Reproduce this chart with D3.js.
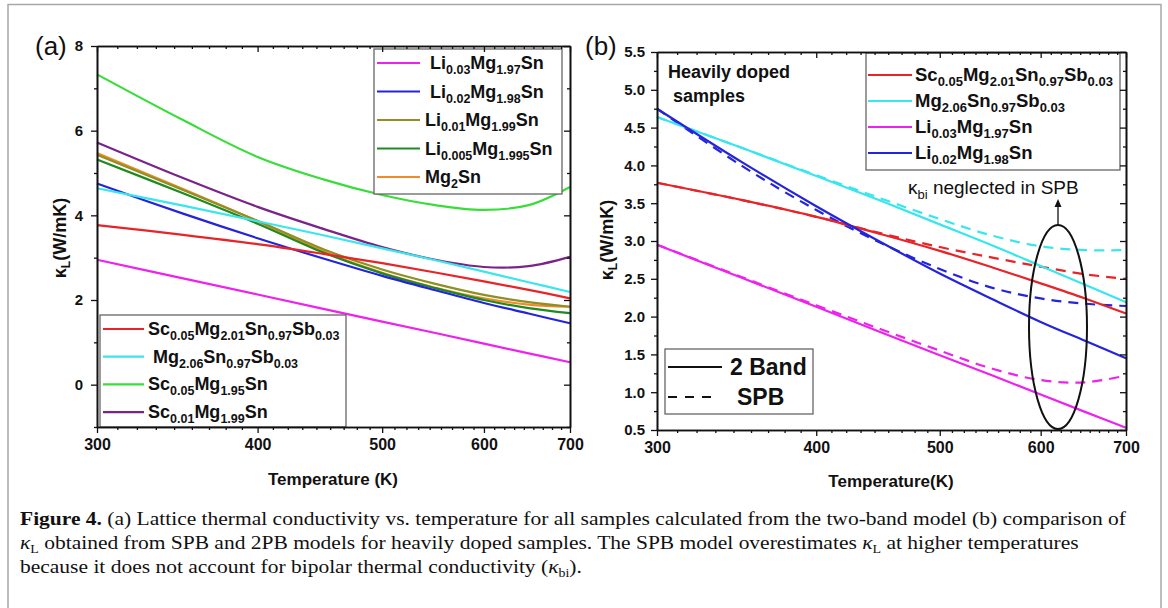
<!DOCTYPE html>
<html>
<head>
<meta charset="utf-8">
<script src="https://cdn.jsdelivr.net/npm/d3@7"></script>
<style>
  body { margin: 0; background: #fff; }
  svg text { font-family: "Liberation Sans", Arial, sans-serif; }
</style>
</head>
<body>
<div id="chart"></div>
<script>
// temperatures (K) where the curves were read
var temps = [300, 350, 400, 450, 500, 550, 600, 650, 700];

// two-band model, lattice thermal conductivity (W/mK)
var li003   = [2.95, 2.51, 2.13, 1.79, 1.49, 1.22, 0.97, 0.74, 0.53];
var li002   = [4.75, 4.04, 3.46, 2.98, 2.57, 2.23, 1.93, 1.68, 1.45];
var li001   = [5.43, 4.60, 3.87, 3.20, 2.72, 2.38, 2.12, 1.95, 1.84];
var li0005  = [5.32, 4.52, 3.80, 3.12, 2.63, 2.28, 2.00, 1.81, 1.69];
var mg2sn   = [5.47, 4.62, 3.86, 3.15, 2.64, 2.29, 2.04, 1.89, 1.84];
var scSb    = [3.77, 3.54, 3.32, 3.09, 2.87, 2.65, 2.44, 2.24, 2.04];
var mgSb    = [4.64, 4.23, 3.86, 3.53, 3.22, 2.94, 2.67, 2.42, 2.19];
var sc005   = [7.33, 6.25, 5.38, 4.85, 4.48, 4.24, 4.13, 4.24, 4.67];
var sc001   = [5.72, 4.88, 4.20, 3.68, 3.25, 2.95, 2.78, 2.80, 3.02];

// single parabolic band model (panel b, dashed)
var scSbSpb  = [3.77, 3.54, 3.32, 3.10, 2.92, 2.78, 2.66, 2.56, 2.50];
var mgSbSpb  = [4.64, 4.23, 3.87, 3.56, 3.29, 3.07, 2.93, 2.88, 2.88];
var li003Spb = [2.95, 2.52, 2.15, 1.83, 1.55, 1.31, 1.16, 1.13, 1.22];
var li002Spb = [4.75, 3.99, 3.41, 2.97, 2.63, 2.38, 2.24, 2.17, 2.14];

var namesA1 = [" Li_{0.03}Mg_{1.97}Sn", " Li_{0.02}Mg_{1.98}Sn", "Li_{0.01}Mg_{1.99}Sn", "Li_{0.005}Mg_{1.995}Sn", "Mg_{2}Sn"];
var namesA2 = ["Sc_{0.05}Mg_{2.01}Sn_{0.97}Sb_{0.03}", " Mg_{2.06}Sn_{0.97}Sb_{0.03}", "Sc_{0.05}Mg_{1.95}Sn", "Sc_{0.01}Mg_{1.99}Sn"];
var namesB  = ["Sc_{0.05}Mg_{2.01}Sn_{0.97}Sb_{0.03}", "Mg_{2.06}Sn_{0.97}Sb_{0.03}", "Li_{0.03}Mg_{1.97}Sn", "Li_{0.02}Mg_{1.98}Sn"];

var xTicks = [300, 400, 500, 600, 700];
var yTicksA = [0, 2, 4, 6, 8];
var yTicksB = [0.5, 1.0, 1.5, 2.0, 2.5, 3.0, 3.5, 4.0, 4.5, 5.0, 5.5];

var col = {
  magenta: "#ee22ee", blue: "#2424dc", olive: "#8f8f24", dkgreen: "#1f8a1f",
  orange: "#f28a2c", red: "#e82428", cyan: "#3ae6ee", green: "#38dd38", purple: "#7a2489"
};

var seriesA1 = [
  {vals: li003, c: col.magenta}, {vals: li002, c: col.blue}, {vals: li001, c: col.olive},
  {vals: li0005, c: col.dkgreen}, {vals: mg2sn, c: col.orange}
];
var seriesA2 = [
  {vals: scSb, c: col.red}, {vals: mgSb, c: col.cyan}, {vals: sc005, c: col.green}, {vals: sc001, c: col.purple}
];
var seriesB = [
  {vals: scSb, spb: scSbSpb, c: col.red}, {vals: mgSb, spb: mgSbSpb, c: col.cyan},
  {vals: li003, spb: li003Spb, c: col.magenta}, {vals: li002, spb: li002Spb, c: col.blue}
];

var svg = d3.select("#chart").append("svg")
  .attr("width", 1168).attr("height", 608);
svg.append("rect").attr("width", 1168).attr("height", 608).attr("fill", "#fff");
// outer figure frame
svg.append("rect").attr("x", 8).attr("y", 4.5).attr("width", 1153).attr("height", 620)
  .attr("fill", "none").attr("stroke", "#a8a8a8").attr("stroke-width", 1.5);

// writes "A_{b}C" style labels with subscripts
function rich(t, str, size, subSize, shift) {
  var parts = str.split(/(_\{[^}]*\})/).filter(function(s) { return s.length; });
  var low = false;
  parts.forEach(function(p) {
    if (p.indexOf("_{") === 0) {
      t.append("tspan").attr("font-size", subSize).attr("dy", low ? 0 : shift).text(p.slice(2, -1));
      low = true;
    } else {
      t.append("tspan").attr("font-size", size).attr("dy", low ? -shift : 0).text(p);
      low = false;
    }
  });
}

function minorOf(majors, n) {
  var out = [];
  for (var i = 0; i < majors.length - 1; i++) {
    var a = majors[i], b = majors[i + 1];
    for (var k = 1; k <= n; k++) out.push(a + (b - a) * k / (n + 1));
  }
  return out;
}

function drawFrame(g, x, y, yMaj, yMin, yFmt, xPad) {
  var x0 = x.range()[0], x1 = x.range()[1], y0 = y.range()[0], y1 = y.range()[1];
  var xMin = minorOf(xTicks, 8);

  // bottom
  g.append("g").attr("transform", "translate(0," + y0 + ")")
    .call(d3.axisBottom(x).tickValues(xMin).tickSize(3).tickFormat("").tickSizeOuter(0));
  g.append("g").attr("class", "xax").attr("transform", "translate(0," + y0 + ")")
    .call(d3.axisBottom(x).tickValues(xTicks).tickSize(6).tickPadding(6)
      .tickFormat(d3.format("d")).tickSizeOuter(0));
  // top (inward)
  g.append("g").attr("transform", "translate(0," + y1 + ")")
    .call(d3.axisBottom(x).tickValues(xMin).tickSize(3).tickFormat("").tickSizeOuter(0));
  g.append("g").attr("transform", "translate(0," + y1 + ")")
    .call(d3.axisBottom(x).tickValues(xTicks).tickSize(6).tickFormat("").tickSizeOuter(0));
  // left
  g.append("g").attr("transform", "translate(" + x0 + ",0)")
    .call(d3.axisLeft(y).tickValues(yMin).tickSize(3).tickFormat("").tickSizeOuter(0));
  g.append("g").attr("class", "yax").attr("transform", "translate(" + x0 + ",0)")
    .call(d3.axisLeft(y).tickValues(yMaj).tickSize(6).tickPadding(xPad)
      .tickFormat(yFmt).tickSizeOuter(0));
  // right (inward)
  g.append("g").attr("transform", "translate(" + x1 + ",0)")
    .call(d3.axisLeft(y).tickValues(yMin).tickSize(3).tickFormat("").tickSizeOuter(0));
  g.append("g").attr("transform", "translate(" + x1 + ",0)")
    .call(d3.axisLeft(y).tickValues(yMaj).tickSize(6).tickFormat("").tickSizeOuter(0));

  g.selectAll(".domain").attr("stroke", "#111").attr("stroke-width", 1.6);
  g.selectAll(".tick line").attr("stroke", "#111").attr("stroke-width", 1.3);
  g.selectAll(".xax text").attr("font-size", 16).attr("font-weight", "bold")
    .attr("font-family", "Liberation Sans, Arial, sans-serif").attr("fill", "#111");
  g.selectAll(".yax text").attr("font-size", 15).attr("font-weight", "bold")
    .attr("font-family", "Liberation Sans, Arial, sans-serif").attr("fill", "#111");
}

function legendBox(g, names, colors, bx, by, bw, bh, lx0, lx1, tx, ty0, dy, fs, sfs) {
  g.append("rect").attr("x", bx).attr("y", by).attr("width", bw).attr("height", bh)
    .attr("fill", "#fff").attr("stroke", "#666").attr("stroke-width", 1.3);
  names.forEach(function(n, i) {
    var yy = ty0 + i * dy;
    g.append("line").attr("x1", lx0).attr("x2", lx1).attr("y1", yy).attr("y2", yy)
      .attr("stroke", colors[i]).attr("stroke-width", 2.2);
    var t = g.append("text").attr("x", tx).attr("y", yy + 6).attr("font-weight", "bold")
      .attr("fill", "#111").style("white-space", "pre");
    rich(t, n, fs, sfs, 5);
  });
}

// ---------- panel (a) ----------
var xA = d3.scaleLog().domain([300, 700]).range([97, 570]);
var yA = d3.scaleLinear().domain([-1, 8]).range([427, 46]);
var gA = svg.append("g");

var lineA = d3.line()
  .x(function(d, i) { return xA(temps[i]); })
  .y(function(d) { return yA(d); })
  .curve(d3.curveCatmullRom.alpha(0.5));

gA.append("g").selectAll("path")
  .data(seriesA2.concat(seriesA1).reverse())
  .enter().append("path")
  .attr("d", function(s) { return lineA(s.vals); })
  .attr("fill", "none").attr("stroke", function(s) { return s.c; }).attr("stroke-width", 2.2);

legendBox(gA, namesA1, seriesA1.map(function(s) { return s.c; }),
  374, 49, 188, 145, 377, 420, 425, 63, 28.5, 18, 12.5);
legendBox(gA, namesA2, seriesA2.map(function(s) { return s.c; }),
  100, 315, 246, 112, 103, 144, 148, 329, 27.7, 18, 12.5);

drawFrame(gA, xA, yA, yTicksA, [-1, 1, 3, 5, 7], d3.format("d"), 8);

gA.append("text").attr("x", 35).attr("y", 55).attr("font-size", 26).attr("fill", "#111")
  .text("(a)");
var ylA = gA.append("text").attr("transform", "translate(66,238) rotate(-90)")
  .attr("text-anchor", "middle").attr("font-weight", "bold").attr("fill", "#111");
rich(ylA, "κ_{L}(W/mK)", 18, 12, 4);
gA.append("text").attr("x", 333).attr("y", 485).attr("text-anchor", "middle")
  .attr("font-size", 17).attr("font-weight", "bold").attr("fill", "#111").text("Temperature (K)");

// ---------- panel (b) ----------
var xB = d3.scaleLog().domain([300, 700]).range([657, 1126]);
var yB = d3.scaleLinear().domain([0.5, 5.5]).range([430, 52]);
var gB = svg.append("g");

var lineB = d3.line()
  .x(function(d, i) { return xB(temps[i]); })
  .y(function(d) { return yB(d); })
  .curve(d3.curveCatmullRom.alpha(0.5));

gB.selectAll("path.spb").data(seriesB).enter().append("path").attr("class", "spb")
  .attr("d", function(s) { return lineB(s.spb); })
  .attr("fill", "none").attr("stroke", function(s) { return s.c; })
  .attr("stroke-width", 2.2).attr("stroke-dasharray", "10,7");
gB.selectAll("path.two").data(seriesB).enter().append("path").attr("class", "two")
  .attr("d", function(s) { return lineB(s.vals); })
  .attr("fill", "none").attr("stroke", function(s) { return s.c; }).attr("stroke-width", 2.2);

legendBox(gB, namesB, seriesB.map(function(s) { return s.c; }),
  866, 53, 254, 117, 868, 912, 915, 75, 26, 18.5, 13);

// model legend
gB.append("rect").attr("x", 665).attr("y", 349).attr("width", 148).attr("height", 65)
  .attr("fill", "#fff").attr("stroke", "#666").attr("stroke-width", 1.3);
gB.append("line").attr("x1", 668).attr("x2", 722).attr("y1", 367).attr("y2", 367)
  .attr("stroke", "#111").attr("stroke-width", 2);
gB.append("line").attr("x1", 668).attr("x2", 716).attr("y1", 397).attr("y2", 397)
  .attr("stroke", "#111").attr("stroke-width", 2).attr("stroke-dasharray", "9,8");
gB.append("text").attr("x", 730).attr("y", 375).attr("font-size", 23).attr("font-weight", "bold")
  .attr("fill", "#111").text("2 Band");
gB.append("text").attr("x", 737).attr("y", 405).attr("font-size", 23).attr("font-weight", "bold")
  .attr("fill", "#111").text("SPB");

gB.append("text").attr("x", 668).attr("y", 78).attr("font-size", 18).attr("font-weight", "bold")
  .attr("fill", "#111").text("Heavily doped");
gB.append("text").attr("x", 673).attr("y", 102).attr("font-size", 18).attr("font-weight", "bold")
  .attr("fill", "#111").text("samples");

// bipolar annotation
gB.append("ellipse").attr("cx", 1058).attr("cy", 327).attr("rx", 29).attr("ry", 102)
  .attr("fill", "none").attr("stroke", "#111").attr("stroke-width", 2);
gB.append("line").attr("x1", 1058).attr("x2", 1058).attr("y1", 225).attr("y2", 206)
  .attr("stroke", "#111").attr("stroke-width", 1.3);
gB.append("path").attr("d", "M1058,199 L1054.5,207 L1061.5,207 Z").attr("fill", "#111");
var kb = gB.append("text").attr("x", 908).attr("y", 194).attr("fill", "#111");
rich(kb, "κ_{bi} neglected in SPB", 19, 13, 5);

drawFrame(gB, xB, yB, yTicksB, minorOf(yTicksB, 1), d3.format(".1f"), 6);

gB.append("text").attr("x", 585).attr("y", 55).attr("font-size", 26).attr("fill", "#111")
  .text("(b)");
var ylB = gB.append("text").attr("transform", "translate(613,240) rotate(-90)")
  .attr("text-anchor", "middle").attr("font-weight", "bold").attr("fill", "#111");
rich(ylB, "κ_{L}(W/mK)", 18, 12, 4);
gB.append("text").attr("x", 891).attr("y", 487).attr("text-anchor", "middle")
  .attr("font-size", 17).attr("font-weight", "bold").attr("fill", "#111").text("Temperature(K)");

// ---------- caption ----------
var cap = svg.append("g").attr("fill", "#111");
function capLine(y) {
  return cap.append("text").attr("x", 20).attr("y", y).attr("font-size", 18.5)
    .style("font-family", "Liberation Serif, serif");
}
var c1 = capLine(525);
c1.append("tspan").attr("font-weight", "bold").text("Figure 4.");
c1.append("tspan").text(" (a) Lattice thermal conductivity vs. temperature for all samples calculated from the two-band model (b) comparison of");

var c2 = capLine(549);
c2.append("tspan").attr("font-style", "italic").text("κ");
c2.append("tspan").attr("font-size", 12).attr("dy", 4).text("L");
c2.append("tspan").attr("dy", -4).text(" obtained from SPB and 2PB models for heavily doped samples. The SPB model overestimates ");
c2.append("tspan").attr("font-style", "italic").text("κ");
c2.append("tspan").attr("font-size", 12).attr("dy", 4).text("L");
c2.append("tspan").attr("dy", -4).text(" at higher temperatures");

var c3 = capLine(573);
c3.append("tspan").text("because it does not account for bipolar thermal conductivity (");
c3.append("tspan").attr("font-style", "italic").text("κ");
c3.append("tspan").attr("font-size", 12).attr("dy", 4).text("bi");
c3.append("tspan").attr("dy", -4).text(").");

// squeeze all caption lines by the same factor so line 1 spans the figure width
var squeeze = 1106 / c1.node().getComputedTextLength();
[c1, c2, c3].forEach(function(t) {
  t.attr("textLength", t.node().getComputedTextLength() * squeeze)
    .attr("lengthAdjust", "spacingAndGlyphs");
});
</script>
</body>
</html>
